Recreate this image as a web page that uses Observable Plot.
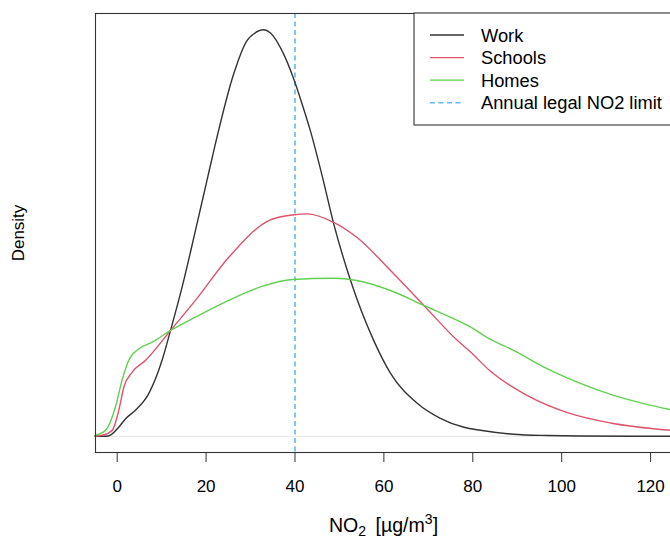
<!DOCTYPE html>
<html>
<head>
<meta charset="utf-8">
<script src="https://cdn.jsdelivr.net/npm/d3@7"></script>
<script src="https://cdn.jsdelivr.net/npm/@observablehq/plot@0.6"></script>
<style>
  html, body { margin: 0; padding: 0; background: #fff; overflow: hidden; }
  #chart { width: 670px; height: 539px; }
</style>
</head>
<body>
<div id="chart"></div>
<script>
// ---- data ----
const workX = [-5, -2.5, -1.5, 0.4, 2.0, 4.1, 7.1, 10.1, 12.0, 14.6, 17.6, 20.2, 22.1, 26.2, 29.2, 30.7, 32.9, 34.5, 37.4, 39.6, 41.5, 43.5, 46.1, 48.7, 52.5, 57.7, 61.5, 67.5, 72.7, 78.0, 81.7, 89.1, 96.8, 104, 125];
const workY = [0, 0, 0.0001, 0.00078, 0.0015, 0.00217, 0.00357, 0.00635, 0.00885, 0.01247, 0.0172, 0.0214, 0.02447, 0.0303, 0.0331, 0.03365, 0.0340, 0.03373, 0.0320, 0.0300, 0.0279, 0.0255, 0.0218, 0.01779, 0.01303, 0.00802, 0.00526, 0.00276, 0.0015, 0.00075, 0.0005, 0.00017, 0.00006, 0.00002, 0];

const schoolsX = [-5, -3.4, -1.1, 0.36, 1.5, 3.4, 6.4, 12.0, 17.6, 25.1, 34.1, 39.4, 42.7, 48.7, 53.9, 61.5, 69.0, 76.5, 79.5, 84.0, 92.2, 102.0, 111.0, 125];
const schoolsY = [0.00002, 0.00008, 0.0005, 0.00217, 0.00412, 0.00537, 0.00635, 0.00885, 0.01136, 0.01497, 0.01804, 0.01851, 0.0186, 0.01789, 0.01664, 0.01386, 0.01094, 0.00802, 0.00704, 0.00543, 0.00342, 0.00189, 0.00111, 0.00048];

const homesX = [-5, -2.6, -0.4, 1.1, 2.6, 4.9, 7.9, 12.0, 17.6, 25.1, 32.6, 39.4, 48.7, 53.9, 61.5, 69.0, 76.5, 79.5, 84.0, 89.2, 96.0, 103.5, 111.7, 118.5, 125];
const homesY = [0.00008, 0.0005, 0.00245, 0.00468, 0.00635, 0.00732, 0.00787, 0.00885, 0.00996, 0.01136, 0.01253, 0.01311, 0.01322, 0.01303, 0.01219, 0.01094, 0.00969, 0.00913, 0.0081, 0.00718, 0.00579, 0.00453, 0.00342, 0.00273, 0.00218];

const limitValue = 40;
const xTicks = [0, 20, 40, 60, 80, 100, 120];
const seriesNames = ["Work", "Schools", "Homes"];
const seriesColors = ["#333333", "#DF536B", "#61D04F"];
const limitLabel = "Annual legal NO2 limit";
const limitColor = "#66B8EE";
const yLabel = "Density";

// ---- build table ----
const toRows = (name, xs, ys) => xs.map((x, i) => ({series: name, x, y: ys[i]}));
const rows = [
  ...toRows("Work", workX, workY),
  ...toRows("Schools", schoolsX, schoolsY),
  ...toRows("Homes", homesX, homesY)
];
const yMax = d3.max(workY);
const font = "'Liberation Sans', Arial, Helvetica, sans-serif";

const plot = Plot.plot({
  width: 670,
  height: 539,
  marginLeft: 95,
  marginRight: -2,
  marginTop: 13,
  marginBottom: 87,
  style: {fontFamily: font, fontSize: "17px", color: "#000", background: "#fff"},
  x: {domain: [-4.88, 124.93], ticks: xTicks, label: null},
  y: {domain: [-0.04 * yMax, yMax * 1.04], axis: null},
  color: {domain: seriesNames, range: seriesColors},
  marks: [
    Plot.ruleY([0], {stroke: "#e4e4e4", strokeWidth: 1}),
    Plot.ruleX([limitValue], {stroke: limitColor, strokeWidth: 1.6, strokeDasharray: "5,3.5"}),
    Plot.line(rows, {x: "x", y: "y", z: "series", stroke: "series", strokeWidth: 1.4, curve: "monotone-x"}),
    Plot.frame({stroke: "#333", strokeWidth: 1.1}),
    Plot.axisX({ticks: xTicks, tickSize: 10, tickPadding: 17, fontSize: 17, stroke: "#333", label: null}),
    Plot.text([yLabel], {text: d => d, frameAnchor: "left", textAnchor: "middle", dx: -77, rotate: -90, fontSize: 17, fill: "#000"})
  ]
});
document.getElementById("chart").appendChild(plot);

// ---- x-axis title with sub/superscript ----
const svg = d3.select(plot);
const xs = plot.scale("x");
const xMid = (xs.range[0] + 670) / 2;
const t = svg.append("text")
  .attr("x", xMid + 1).attr("y", 532)
  .attr("text-anchor", "middle")
  .attr("font-family", font).attr("font-size", 19.6).attr("fill", "#000");
t.append("tspan").text("NO");
t.append("tspan").attr("font-size", 14).attr("dy", 4).text("2");
t.append("tspan").attr("dy", -4).text("\u2009 [µg/m");
t.append("tspan").attr("font-size", 14).attr("dy", -8).text("3");
t.append("tspan").attr("dy", 8).text("]");

// ---- legend (top-right, as in the reference) ----
const lg = svg.append("g").attr("font-family", font).attr("font-size", 18.3).attr("text-anchor", "start");
lg.append("rect").attr("x", 414).attr("y", 13).attr("width", 300).attr("height", 112)
  .attr("fill", "#fff").attr("stroke", "#333").attr("stroke-width", 1.1);
const items = seriesNames.map((n, i) => ({label: n, color: seriesColors[i], dash: null}))
  .concat([{label: limitLabel, color: limitColor, dash: "5,3.5"}]);
items.forEach((d, i) => {
  const yy = 35 + i * 22.6;
  const ln = lg.append("line").attr("x1", 430).attr("x2", 464).attr("y1", yy).attr("y2", yy)
    .attr("stroke", d.color).attr("stroke-width", d.dash ? 1.6 : 1.3);
  if (d.dash) ln.attr("stroke-dasharray", d.dash);
  lg.append("text").attr("x", 481).attr("y", yy + 6.5).attr("text-anchor", "start").attr("fill", "#000").text(d.label);
});
</script>
</body>
</html>
